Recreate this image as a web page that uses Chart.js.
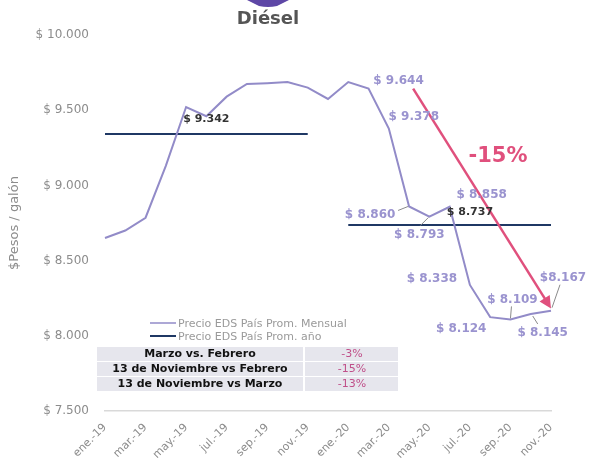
<!DOCTYPE html>
<html>
<head>
<meta charset="utf-8">
<script src="https://cdn.jsdelivr.net/npm/chart.js@4.4.0/dist/chart.umd.min.js"></script>
<style>
  body { margin: 0; background: #fff; }
  #wrap { width: 589px; height: 459px; position: relative; }
</style>
</head>
<body>
<div id="wrap"><canvas id="canvasDiesel"></canvas></div>
<script>
const meses = ["ene.-19", "feb.-19", "mar.-19", "abr.-19", "may.-19", "jun.-19", "jul.-19", "ago.-19", "sep.-19", "oct.-19", "nov.-19", "dic.-19",
               "ene.-20", "feb.-20", "mar.-20", "abr.-20", "may.-20", "jun.-20", "jul.-20", "ago.-20", "sep.-20", "oct.-20", "nov.-20"];
const precioMensual = [8650, 8700, 8785, 9130, 9521, 9460, 9590, 9675, 9680, 9687, 9650, 9575,
                       9687, 9644, 9378, 8860, 8793, 8858, 8338, 8124, 8109, 8145, 8167];
const precioAnual = [9342, 9342, 9342, 9342, 9342, 9342, 9342, 9342, 9342, 9342, 9342, null,
                     8737, 8737, 8737, 8737, 8737, 8737, 8737, 8737, 8737, 8737, 8737];
const ticksY = [7500, 8000, 8500, 9000, 9500, 10000];
const comparaciones = ["Marzo vs. Febrero", "13 de Noviembre vs Febrero", "13 de Noviembre vs Marzo"];
const variaciones = ["-3%", "-15%", "-13%"];

// donde va cada etiqueta de dato (desplazamiento desde el punto) y su linea guia
const etiquetas = [
    { i: 13, dx: 30, dy: -8 },
    { i: 14, dx: 25, dy: -12 },
    { i: 15, dx: -39, dy: 8, guia: [-11, 4, -1, 0] },
    { i: 16, dx: -10, dy: 18, guia: [-9, 9, -1, 1] },
    { i: 17, dx: 32, dy: -12 },
    { i: 18, dx: -38, dy: -6 },
    { i: 19, dx: -29, dy: 12 },
    { i: 20, dx: 2, dy: -20, guia: [1, -13, 0, -1] },
    { i: 21, dx: 12, dy: 19, guia: [2, 2, 7, 10] },
    { i: 22, dx: 12, dy: -33, pegado: true, guia: [9, -26, 1, -3] }
];

const COLOR_MES = '#928bc8';
const COLOR_ANIO = '#1f3864';
const COLOR_ROSA = '#e0507d';

function formato(v) {
    return String(v).replace(/\B(?=(\d{3})+(?!\d))/g, '.');
}

const anotaciones = {
    id: 'anotaciones',
    afterDraw(chart) {
        const ctx = chart.ctx;
        const sx = chart.scales.x;
        const sy = chart.scales.y;
        ctx.save();

        // icono cortado arriba
        ctx.fillStyle = '#5e47a6';
        ctx.beginPath();
        ctx.moveTo(247, 0);
        ctx.lineTo(289, 0);
        ctx.lineTo(277, 6);
        ctx.quadraticCurveTo(268, 8, 259, 6);
        ctx.closePath();
        ctx.fill();

        // titulo
        ctx.fillStyle = '#555555';
        ctx.font = "bold 18px 'DejaVu Sans'";
        ctx.textAlign = 'center';
        ctx.textBaseline = 'middle';
        ctx.fillText('Diésel', 268, 19);

        // flecha de variacion
        const x1 = sx.getPixelForValue(15.2), y1 = sy.getPixelForValue(precioMensual[13]);
        const x2 = sx.getPixelForValue(22), y2 = sy.getPixelForValue(precioMensual[22] + 15);
        const ang = Math.atan2(y2 - y1, x2 - x1);
        ctx.strokeStyle = COLOR_ROSA;
        ctx.fillStyle = COLOR_ROSA;
        ctx.lineWidth = 2.5;
        ctx.beginPath();
        ctx.moveTo(x1, y1);
        ctx.lineTo(x2 - 8 * Math.cos(ang), y2 - 8 * Math.sin(ang));
        ctx.stroke();
        ctx.beginPath();
        ctx.moveTo(x2, y2);
        ctx.lineTo(x2 - 12 * Math.cos(ang) + 6 * Math.sin(ang), y2 - 12 * Math.sin(ang) - 6 * Math.cos(ang));
        ctx.lineTo(x2 - 12 * Math.cos(ang) - 6 * Math.sin(ang), y2 - 12 * Math.sin(ang) + 6 * Math.cos(ang));
        ctx.closePath();
        ctx.fill();
        ctx.font = "bold 21px 'DejaVu Sans'";
        ctx.fillText(variaciones[1], 498, 157);

        // etiquetas de datos mensuales
        ctx.font = "bold 12px 'DejaVu Sans'";
        etiquetas.forEach(e => {
            const px = sx.getPixelForValue(e.i);
            const py = sy.getPixelForValue(precioMensual[e.i]);
            if (e.guia) {
                ctx.strokeStyle = '#8a8a8a';
                ctx.lineWidth = 1;
                ctx.beginPath();
                ctx.moveTo(px + e.guia[0], py + e.guia[1]);
                ctx.lineTo(px + e.guia[2], py + e.guia[3]);
                ctx.stroke();
            }
            ctx.fillStyle = '#9a93cf';
            ctx.fillText((e.pegado ? '$' : '$ ') + formato(precioMensual[e.i]), px + e.dx, py + e.dy);
        });

        // etiquetas del promedio anual
        ctx.fillStyle = '#333333';
        ctx.font = "bold 11px 'DejaVu Sans'";
        ctx.fillText('$ ' + formato(precioAnual[5]), sx.getPixelForValue(5), sy.getPixelForValue(precioAnual[5]) - 15);
        ctx.fillText('$ ' + formato(precioAnual[18]), sx.getPixelForValue(18), sy.getPixelForValue(precioAnual[18]) - 13);

        // leyenda
        ctx.textAlign = 'left';
        ctx.font = "11px 'DejaVu Sans'";
        chart.data.datasets.forEach((ds, k) => {
            const ly = 323 + k * 13;
            ctx.strokeStyle = ds.borderColor;
            ctx.lineWidth = k === 0 ? 1.5 : 2;
            ctx.beginPath();
            ctx.moveTo(150, ly);
            ctx.lineTo(176, ly);
            ctx.stroke();
            ctx.fillStyle = '#9a9a9a';
            ctx.fillText(ds.label, 178, ly + 1);
        });

        // tabla de comparaciones
        comparaciones.forEach((txt, k) => {
            const ty = 347 + k * 15;
            ctx.fillStyle = '#e6e6ed';
            ctx.fillRect(97, ty, 206, 14);
            ctx.fillRect(305, ty, 93, 14);
            ctx.textAlign = 'center';
            ctx.fillStyle = '#111111';
            ctx.font = "bold 11px 'DejaVu Sans'";
            ctx.fillText(txt, 200, ty + 7.5);
            ctx.fillStyle = '#c0508a';
            ctx.font = "11px 'DejaVu Sans'";
            ctx.fillText(variaciones[k], 352, ty + 7.5);
        });

        ctx.restore();
    }
};

function GraficoDiesel() {
    const data = {
        labels: meses,
        datasets: [
            {
                label: 'Precio EDS País Prom. Mensual',
                data: precioMensual,
                borderColor: COLOR_MES,
                backgroundColor: COLOR_MES,
                borderWidth: 2,
                pointRadius: 0,
                tension: 0
            },
            {
                label: 'Precio EDS País Prom. año',
                data: precioAnual,
                borderColor: COLOR_ANIO,
                backgroundColor: COLOR_ANIO,
                borderWidth: 2,
                pointRadius: 0,
                spanGaps: false
            }
        ]
    };
    const config = {
        type: 'line',
        data: data,
        options: {
            responsive: true,
            maintainAspectRatio: false,
            animation: false,
            layout: { padding: { top: 35, right: 38, left: 0, bottom: 0 } },
            plugins: {
                legend: { display: false },
                title: { display: false },
                tooltip: { enabled: false }
            },
            scales: {
                x: {
                    offset: false,
                    grid: { display: false },
                    border: { display: true, color: '#d9d9d9', width: 1.5 },
                    ticks: {
                        autoSkip: false,
                        maxRotation: 45,
                        minRotation: 45,
                        padding: 2,
                        color: '#8c8c8c',
                        font: { size: 11 },
                        callback: function (val, idx) { return idx % 2 === 0 ? this.getLabelForValue(val) : ''; }
                    },
                    afterFit: function (scale) { scale.height = 48; }
                },
                y: {
                    min: ticksY[0],
                    max: ticksY[ticksY.length - 1],
                    grid: { display: false, drawTicks: false },
                    border: { display: false },
                    afterBuildTicks: function (scale) { scale.ticks = ticksY.map(v => ({ value: v })); },
                    ticks: {
                        padding: 16,
                        color: '#8c8c8c',
                        font: { size: 12 },
                        callback: v => '$ ' + formato(v)
                    },
                    title: {
                        display: true,
                        text: '$Pesos / galón',
                        color: '#8c8c8c',
                        font: { size: 13 },
                        padding: { top: 7, bottom: 0 }
                    },
                    afterFit: function (scale) { scale.width = 105; }
                }
            }
        },
        plugins: [anotaciones]
    };

    Chart.defaults.font.family = "'DejaVu Sans', sans-serif";
    const canvas = document.getElementById('canvasDiesel');
    const chart = new Chart(canvas, config);
    window.addEventListener('resize', function () { chart.resize() });
}
GraficoDiesel();
</script>
</body>
</html>
